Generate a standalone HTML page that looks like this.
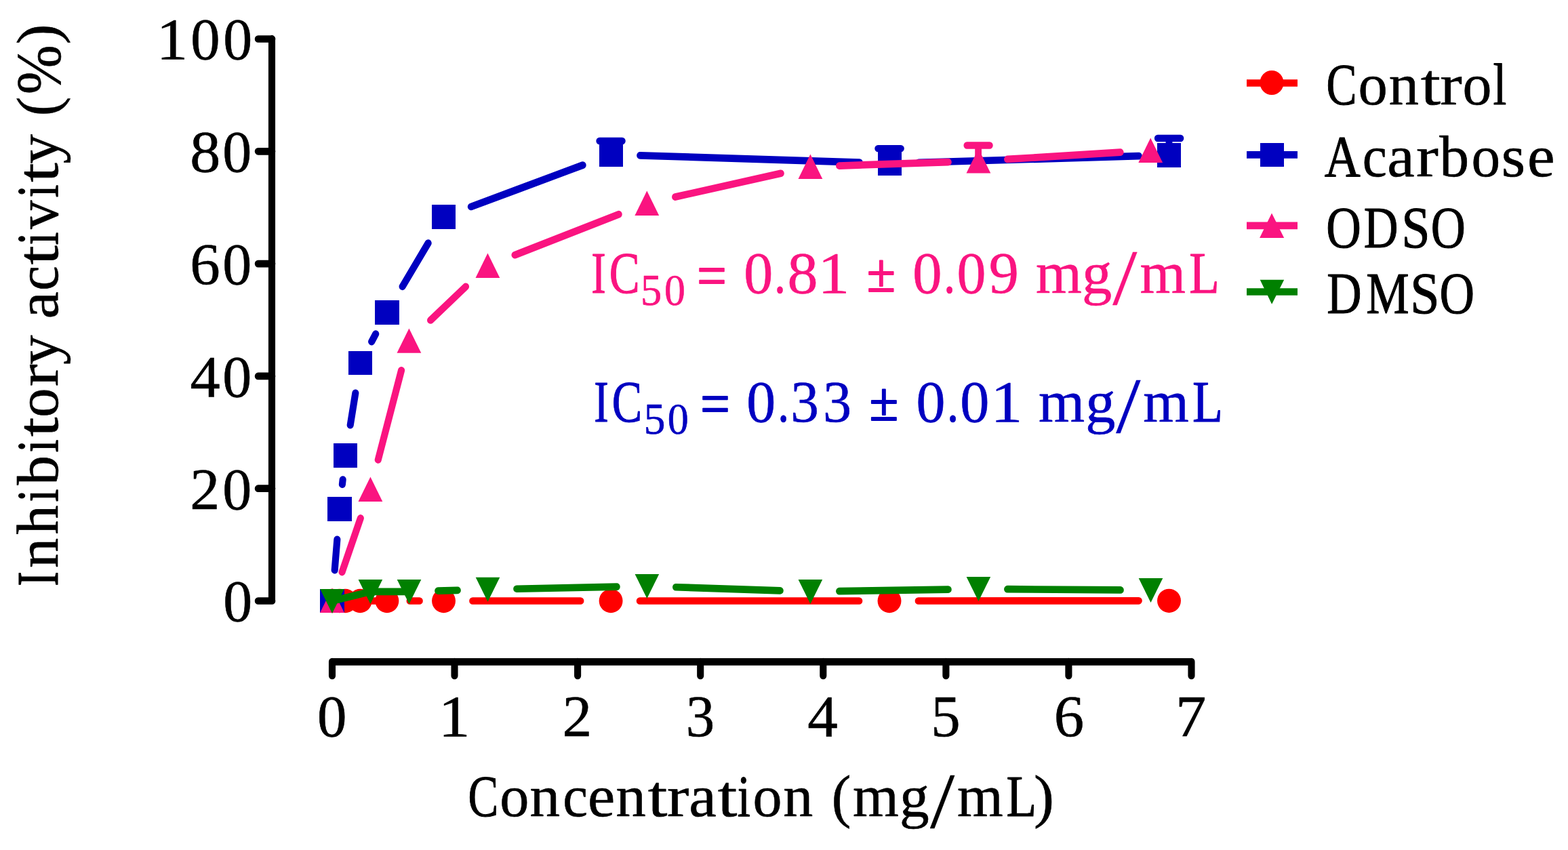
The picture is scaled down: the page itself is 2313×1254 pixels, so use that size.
<!DOCTYPE html>
<html lang="en">
<head>
<meta charset="utf-8">
<title>Inhibitory activity vs concentration</title>
<style>
html,body{margin:0;padding:0;background:#ffffff;}
body{width:2313px;height:1254px;overflow:hidden;}
svg{display:block;}
svg text{font-family:"Liberation Serif","DejaVu Serif",serif;white-space:pre;stroke-linejoin:round;}
</style>
</head>
<body>
<svg width="2313" height="1254" viewBox="0 0 2313 1254">
<rect width="2313" height="1254" fill="#ffffff"/>
<g id="axes">
<path transform="scale(1,1.054)" d="M401.0,54.27V841.08M401.3,841.08H380.80M401.3,683.78H380.80M401.3,526.47H380.80M401.3,369.17H380.80M401.3,211.86H380.80M401.3,54.55H380.80M490.00,926.38H1757.50M490.00,926.09V945.92M670.50,926.09V945.92M852.10,926.09V945.92M1033.20,926.09V945.92M1214.30,926.09V945.92M1395.40,926.09V945.92M1576.40,926.09V945.92M1757.50,926.09V945.92" fill="none" stroke="#000000" stroke-width="10.12" stroke-linecap="round" stroke-linejoin="round"/>
</g>
<g id="series">
<g transform="scale(1,1.054)" stroke="#ff0000" stroke-width="10.15" stroke-linecap="round" fill="none"><path d="M490.00,841.08L501.00,841.08M501.00,841.08L509.50,841.08M509.50,841.08L531.20,841.08M531.20,841.08L570.90,841.08M604.60,841.08L618.78,841.08M697.20,841.08L856.38,841.08M943.80,841.08L1267.28,841.08M1354.70,841.06L1679.78,840.91"/></g>
<ellipse cx="490.00" cy="886.50" rx="17.45" ry="17.65" fill="#ff0000"/><ellipse cx="501.00" cy="886.50" rx="17.45" ry="17.65" fill="#ff0000"/><ellipse cx="509.50" cy="886.50" rx="17.45" ry="17.65" fill="#ff0000"/><ellipse cx="531.20" cy="886.50" rx="17.45" ry="17.65" fill="#ff0000"/><ellipse cx="570.90" cy="886.50" rx="17.45" ry="17.65" fill="#ff0000"/><ellipse cx="654.50" cy="886.50" rx="17.45" ry="17.65" fill="#ff0000"/><ellipse cx="901.10" cy="886.50" rx="17.45" ry="17.65" fill="#ff0000"/><ellipse cx="1312.00" cy="886.50" rx="17.45" ry="17.65" fill="#ff0000"/><ellipse cx="1724.50" cy="886.30" rx="17.45" ry="17.65" fill="#ff0000"/>
<g transform="scale(1,1.054)" stroke="#0000c0" stroke-width="10.15" stroke-linecap="round" fill="none"><path d="M493.68,798.04L497.36,755.06M504.89,678.14L505.66,671.41M516.72,595.02L524.34,550.17M548.15,478.27L554.20,467.45M593.64,401.11L631.64,340.22M694.88,289.34L859.58,231.13M944.20,217.60L1267.80,227.31M1355.20,227.46L1679.80,218.42"/><path d="M901.50,216.32V197.34M884.25,197.34H917.85" stroke-width="9.8"/><path d="M1312.50,228.65V207.87M1295.15,207.87H1328.95" stroke-width="9.8"/><path d="M1724.50,217.17V193.55M1707.75,193.55H1741.45" stroke-width="9.8"/></g>
<rect x="472" y="869" width="36" height="35" fill="#0000c0"/><rect x="483" y="733" width="36" height="36" fill="#0000c0"/><rect x="492" y="654" width="35" height="36" fill="#0000c0"/><rect x="514" y="518" width="35" height="35" fill="#0000c0"/><rect x="553" y="443" width="36" height="36" fill="#0000c0"/><rect x="637" y="302" width="35" height="36" fill="#0000c0"/><rect x="884" y="210" width="35" height="36" fill="#0000c0"/><rect x="1295" y="223" width="35" height="36" fill="#0000c0"/><rect x="1707" y="211" width="35" height="36" fill="#0000c0"/>
<g transform="scale(1,1.054)" stroke="#fa1480" stroke-width="10.15" stroke-linecap="round" fill="none"><path d="M504.57,800.77L531.83,725.31M557.75,643.60L592.09,518.30M635.07,448.31L687.02,401.19M759.54,356.90L912.64,300.01M996.17,275.65L1151.75,242.65M1238.10,232.02L1398.71,226.86M1486.07,222.92L1652.56,213.15"/><path d="M1443.10,225.43V203.51M1426.35,203.51H1459.85" stroke-width="9.8"/></g>
<path d="M490.00,867.50L507.90,903.90H472.10Z" fill="#fa1480"/><path d="M546.40,703.60L564.30,740.00H528.50Z" fill="#fa1480"/><path d="M603.40,484.40L621.30,520.80H585.50Z" fill="#fa1480"/><path d="M719.40,373.50L737.30,409.90H701.50Z" fill="#fa1480"/><path d="M954.30,281.50L972.20,317.90H936.40Z" fill="#fa1480"/><path d="M1195.40,227.60L1213.30,264.00H1177.50Z" fill="#fa1480"/><path d="M1443.40,219.20L1461.30,255.60H1425.50Z" fill="#fa1480"/><path d="M1697.20,203.50L1715.10,239.90H1679.30Z" fill="#fa1480"/>
<g transform="scale(1,1.054)" stroke="#008000" stroke-width="10.15" stroke-linecap="round" fill="none"><path d="M490.00,841.08L546.40,828.18M546.40,828.18L603.50,828.18M646.20,827.03L674.80,826.25M762.21,824.22L909.69,821.36M997.10,821.85L1150.71,826.75M1238.11,827.52L1398.69,825.07M1486.10,824.69L1652.78,825.87"/></g>
<path d="M490.00,905.00L507.80,869.00H472.20Z" fill="#008000"/><path d="M546.40,891.10L564.20,855.10H528.60Z" fill="#008000"/><path d="M603.50,891.10L621.30,855.10H585.70Z" fill="#008000"/><path d="M719.50,887.80L737.30,851.80H701.70Z" fill="#008000"/><path d="M954.40,883.00L972.20,847.00H936.60Z" fill="#008000"/><path d="M1195.40,891.10L1213.20,855.10H1177.60Z" fill="#008000"/><path d="M1443.40,887.10L1461.20,851.10H1425.60Z" fill="#008000"/><path d="M1697.50,889.00L1715.30,853.00H1679.70Z" fill="#008000"/>
</g>
<g id="legend-symbols">
<path d="M1839,122.5H1914" stroke="#ff0000" stroke-width="10.6" fill="none"/>
<ellipse cx="1876.0" cy="122.0" rx="17.5" ry="18.1" fill="#ff0000"/>
<path d="M1839,228.4H1914" stroke="#0000c0" stroke-width="10.6" fill="none"/>
<rect x="1859" y="211" width="35" height="35" fill="#0000c0"/>
<path d="M1839,332.9H1914" stroke="#fa1480" stroke-width="10.6" fill="none"/>
<path d="M1876.0,314.4L1894.2,350.9H1858.1Z" fill="#fa1480"/>
<path d="M1839,430.5H1914" stroke="#008000" stroke-width="10.6" fill="none"/>
<path d="M1876.1,448.8L1894.2,412.85H1858.7Z" fill="#008000"/>
</g>
<g id="labels">
<text font-size="87.6" fill="#000000" stroke="#000000" stroke-width="0.6"><tspan x="230.86" y="87.40" textLength="46.39" lengthAdjust="spacingAndGlyphs">1</tspan><tspan x="281.23" y="87.40" textLength="43.39" lengthAdjust="spacingAndGlyphs">0</tspan><tspan x="329.26" y="87.40" textLength="42.93" lengthAdjust="spacingAndGlyphs">0</tspan></text>
<text font-size="87.6" fill="#000000" stroke="#000000" stroke-width="0.6"><tspan x="280.22" y="253.20" textLength="45.02" lengthAdjust="spacingAndGlyphs">8</tspan><tspan x="328.15" y="253.20" textLength="43.04" lengthAdjust="spacingAndGlyphs">0</tspan></text>
<text font-size="87.6" fill="#000000" stroke="#000000" stroke-width="0.6"><tspan x="280.34" y="419.00" textLength="44.49" lengthAdjust="spacingAndGlyphs">6</tspan><tspan x="328.15" y="419.00" textLength="43.04" lengthAdjust="spacingAndGlyphs">0</tspan></text>
<text font-size="87.6" fill="#000000" stroke="#000000" stroke-width="0.6"><tspan x="280.48" y="584.80" textLength="44.27" lengthAdjust="spacingAndGlyphs">4</tspan><tspan x="328.15" y="584.80" textLength="43.04" lengthAdjust="spacingAndGlyphs">0</tspan></text>
<text font-size="87.6" fill="#000000" stroke="#000000" stroke-width="0.6"><tspan x="280.39" y="750.60" textLength="43.98" lengthAdjust="spacingAndGlyphs">2</tspan><tspan x="328.15" y="750.60" textLength="43.04" lengthAdjust="spacingAndGlyphs">0</tspan></text>
<text font-size="87.6" fill="#000000" stroke="#000000" stroke-width="0.6"><tspan x="329.26" y="916.40" textLength="42.93" lengthAdjust="spacingAndGlyphs">0</tspan></text>
<text font-size="87.6" fill="#000000" stroke="#000000" stroke-width="0.6"><tspan x="467.92" y="1086.00" textLength="43.51" lengthAdjust="spacingAndGlyphs">0</tspan></text>
<text font-size="87.6" fill="#000000" stroke="#000000" stroke-width="0.6"><tspan x="646.68" y="1086.00" textLength="46.81" lengthAdjust="spacingAndGlyphs">1</tspan></text>
<text font-size="87.6" fill="#000000" stroke="#000000" stroke-width="0.6"><tspan x="829.61" y="1086.00" textLength="43.61" lengthAdjust="spacingAndGlyphs">2</tspan></text>
<text font-size="87.6" fill="#000000" stroke="#000000" stroke-width="0.6"><tspan x="1011.73" y="1086.00" textLength="42.43" lengthAdjust="spacingAndGlyphs">3</tspan></text>
<text font-size="87.6" fill="#000000" stroke="#000000" stroke-width="0.6"><tspan x="1191.27" y="1086.00" textLength="44.59" lengthAdjust="spacingAndGlyphs">4</tspan></text>
<text font-size="87.6" fill="#000000" stroke="#000000" stroke-width="0.6"><tspan x="1373.19" y="1086.00" textLength="43.43" lengthAdjust="spacingAndGlyphs">5</tspan></text>
<text font-size="87.6" fill="#000000" stroke="#000000" stroke-width="0.6"><tspan x="1554.75" y="1086.00" textLength="44.37" lengthAdjust="spacingAndGlyphs">6</tspan></text>
<text font-size="87.6" fill="#000000" stroke="#000000" stroke-width="0.6"><tspan x="1734.10" y="1086.00" textLength="45.38" lengthAdjust="spacingAndGlyphs">7</tspan></text>
<text font-size="87.6" fill="#000000" stroke="#000000" stroke-width="0.6"><tspan x="690.51" y="1204.40" textLength="44.70" lengthAdjust="spacingAndGlyphs" stroke-width="1.1">C</tspan><tspan x="737.24" y="1204.40" textLength="43.16" lengthAdjust="spacingAndGlyphs">o</tspan><tspan x="781.42" y="1204.40" textLength="44.65" lengthAdjust="spacingAndGlyphs">n</tspan><tspan x="830.36" y="1204.40" textLength="36.80" lengthAdjust="spacingAndGlyphs">c</tspan><tspan x="867.00" y="1204.40" textLength="40.24" lengthAdjust="spacingAndGlyphs">e</tspan><tspan x="908.53" y="1204.40" textLength="44.33" lengthAdjust="spacingAndGlyphs">n</tspan><tspan x="955.81" y="1204.40" textLength="28.69" lengthAdjust="spacingAndGlyphs">t</tspan><tspan x="984.13" y="1204.40" textLength="32.44" lengthAdjust="spacingAndGlyphs">r</tspan><tspan x="1016.34" y="1204.40" textLength="40.49" lengthAdjust="spacingAndGlyphs">a</tspan><tspan x="1058.71" y="1204.40" textLength="28.69" lengthAdjust="spacingAndGlyphs">t</tspan><tspan x="1087.72" y="1204.40" textLength="19.14" lengthAdjust="spacingAndGlyphs" stroke-width="1.1">i</tspan><tspan x="1110.55" y="1204.40" textLength="43.04" lengthAdjust="spacingAndGlyphs">o</tspan><tspan x="1155.24" y="1204.40" textLength="44.01" lengthAdjust="spacingAndGlyphs">n</tspan> <tspan x="1226.77" y="1204.40" textLength="28.61" lengthAdjust="spacingAndGlyphs">(</tspan><tspan x="1258.11" y="1204.40" textLength="67.83" lengthAdjust="spacingAndGlyphs">m</tspan><tspan x="1327.11" y="1204.40" textLength="43.68" lengthAdjust="spacingAndGlyphs">g</tspan><tspan x="1372.08" y="1221.21" textLength="36.22" lengthAdjust="spacingAndGlyphs" font-size="117.5" stroke-width="0.3">/</tspan><tspan x="1412.11" y="1204.40" textLength="67.72" lengthAdjust="spacingAndGlyphs">m</tspan><tspan x="1484.54" y="1204.40" textLength="44.53" lengthAdjust="spacingAndGlyphs" stroke-width="1.1">L</tspan><tspan x="1525.13" y="1204.40" textLength="29.93" lengthAdjust="spacingAndGlyphs">)</tspan></text>
<text transform="translate(85.10,863.10) rotate(-90)" font-size="87.6" fill="#000000" stroke="#000000" stroke-width="0.6"><tspan x="-1.75" y="0.00" textLength="21.53" lengthAdjust="spacingAndGlyphs" stroke-width="1.1">I</tspan><tspan x="25.03" y="0.00" textLength="44.22" lengthAdjust="spacingAndGlyphs">n</tspan><tspan x="74.51" y="0.00" textLength="43.08" lengthAdjust="spacingAndGlyphs">h</tspan><tspan x="122.72" y="0.00" textLength="19.03" lengthAdjust="spacingAndGlyphs" stroke-width="1.1">i</tspan><tspan x="147.35" y="0.00" textLength="43.69" lengthAdjust="spacingAndGlyphs">b</tspan><tspan x="195.51" y="0.00" textLength="19.25" lengthAdjust="spacingAndGlyphs" stroke-width="1.1">i</tspan><tspan x="218.91" y="0.00" textLength="28.80" lengthAdjust="spacingAndGlyphs">t</tspan><tspan x="247.34" y="0.00" textLength="43.16" lengthAdjust="spacingAndGlyphs">o</tspan><tspan x="292.90" y="0.00" textLength="32.97" lengthAdjust="spacingAndGlyphs">r</tspan><tspan x="325.06" y="0.00" textLength="43.49" lengthAdjust="spacingAndGlyphs">y</tspan> <tspan x="392.54" y="0.00" textLength="40.49" lengthAdjust="spacingAndGlyphs">a</tspan><tspan x="434.38" y="0.00" textLength="36.57" lengthAdjust="spacingAndGlyphs">c</tspan><tspan x="472.31" y="0.00" textLength="28.59" lengthAdjust="spacingAndGlyphs">t</tspan><tspan x="501.72" y="0.00" textLength="19.14" lengthAdjust="spacingAndGlyphs" stroke-width="1.1">i</tspan><tspan x="525.04" y="0.00" textLength="42.56" lengthAdjust="spacingAndGlyphs">v</tspan><tspan x="571.52" y="0.00" textLength="19.14" lengthAdjust="spacingAndGlyphs" stroke-width="1.1">i</tspan><tspan x="594.01" y="0.00" textLength="28.80" lengthAdjust="spacingAndGlyphs">t</tspan><tspan x="621.35" y="0.00" textLength="43.90" lengthAdjust="spacingAndGlyphs">y</tspan> <tspan x="691.78" y="0.00" textLength="28.48" lengthAdjust="spacingAndGlyphs">(</tspan><tspan x="723.79" y="3.05" textLength="72.91" lengthAdjust="spacingAndGlyphs" font-size="92.11" stroke-width="0.6">%</tspan><tspan x="797.77" y="0.00" textLength="29.55" lengthAdjust="spacingAndGlyphs">)</tspan></text>
<text font-size="87.6" fill="#000000" stroke="#000000" stroke-width="0.6"><tspan x="1956.49" y="153.90" textLength="45.04" lengthAdjust="spacingAndGlyphs" stroke-width="1.1">C</tspan><tspan x="2003.44" y="153.90" textLength="43.27" lengthAdjust="spacingAndGlyphs">o</tspan><tspan x="2048.83" y="153.90" textLength="44.33" lengthAdjust="spacingAndGlyphs">n</tspan><tspan x="2095.70" y="153.90" textLength="29.32" lengthAdjust="spacingAndGlyphs">t</tspan><tspan x="2124.23" y="153.90" textLength="32.54" lengthAdjust="spacingAndGlyphs">r</tspan><tspan x="2157.46" y="153.90" textLength="42.93" lengthAdjust="spacingAndGlyphs">o</tspan><tspan x="2202.48" y="153.90" textLength="19.81" lengthAdjust="spacingAndGlyphs" stroke-width="1.1">l</tspan></text>
<text font-size="87.6" fill="#000000" stroke="#000000" stroke-width="0.6"><tspan x="1953.79" y="259.80" textLength="53.02" lengthAdjust="spacingAndGlyphs" stroke-width="1.1">A</tspan><tspan x="2009.81" y="259.80" textLength="36.10" lengthAdjust="spacingAndGlyphs">c</tspan><tspan x="2046.34" y="259.80" textLength="40.38" lengthAdjust="spacingAndGlyphs">a</tspan><tspan x="2089.11" y="259.80" textLength="32.87" lengthAdjust="spacingAndGlyphs">r</tspan><tspan x="2123.35" y="259.80" textLength="43.90" lengthAdjust="spacingAndGlyphs">b</tspan><tspan x="2170.58" y="259.80" textLength="42.58" lengthAdjust="spacingAndGlyphs">o</tspan><tspan x="2214.83" y="259.80" textLength="35.31" lengthAdjust="spacingAndGlyphs">s</tspan><tspan x="2252.97" y="259.80" textLength="40.59" lengthAdjust="spacingAndGlyphs">e</tspan></text>
<text font-size="87.6" fill="#000000" stroke="#000000" stroke-width="0.6"><tspan x="1956.35" y="364.90" textLength="51.61" lengthAdjust="spacingAndGlyphs" stroke-width="1.1">O</tspan><tspan x="2011.70" y="364.90" textLength="50.72" lengthAdjust="spacingAndGlyphs" stroke-width="1.1">D</tspan><tspan x="2067.59" y="364.90" textLength="41.89" lengthAdjust="spacingAndGlyphs" stroke-width="1.1">S</tspan><tspan x="2110.78" y="364.90" textLength="51.05" lengthAdjust="spacingAndGlyphs" stroke-width="1.1">O</tspan></text>
<text font-size="87.6" fill="#000000" stroke="#000000" stroke-width="0.6"><tspan x="1957.18" y="461.90" textLength="51.37" lengthAdjust="spacingAndGlyphs" stroke-width="1.1">D</tspan><tspan x="2015.27" y="461.90" textLength="63.47" lengthAdjust="spacingAndGlyphs" stroke-width="1.1">M</tspan><tspan x="2080.15" y="461.90" textLength="43.15" lengthAdjust="spacingAndGlyphs" stroke-width="1.1">S</tspan><tspan x="2123.46" y="461.90" textLength="51.50" lengthAdjust="spacingAndGlyphs" stroke-width="1.1">O</tspan></text>
<text font-size="87.6" fill="#fa1480" stroke="#fa1480" stroke-width="0.6"><tspan x="872.15" y="432.10" textLength="21.53" lengthAdjust="spacingAndGlyphs" stroke-width="1.1">I</tspan><tspan x="898.69" y="432.10" textLength="44.93" lengthAdjust="spacingAndGlyphs" stroke-width="1.1">C</tspan><tspan x="944.98" y="450.10" textLength="31.20" lengthAdjust="spacingAndGlyphs" font-size="65.8">5</tspan><tspan x="979.88" y="450.10" textLength="30.94" lengthAdjust="spacingAndGlyphs" font-size="65.8">0</tspan> <tspan x="1028.29" y="435.97" textLength="43.43" lengthAdjust="spacingAndGlyphs" font-size="86.01" stroke-width="2.0">=</tspan> <tspan x="1097.35" y="432.10" textLength="43.04" lengthAdjust="spacingAndGlyphs">0</tspan><tspan x="1141.80" y="432.10" textLength="17.52" lengthAdjust="spacingAndGlyphs">.</tspan><tspan x="1161.52" y="432.10" textLength="45.02" lengthAdjust="spacingAndGlyphs">8</tspan><tspan x="1206.58" y="432.10" textLength="46.81" lengthAdjust="spacingAndGlyphs">1</tspan> <tspan x="1279.00" y="430.10" textLength="41.78" lengthAdjust="spacingAndGlyphs" font-size="81.41" stroke-width="2.2">±</tspan> <tspan x="1346.24" y="432.10" textLength="43.27" lengthAdjust="spacingAndGlyphs">0</tspan><tspan x="1391.85" y="432.10" textLength="17.72" lengthAdjust="spacingAndGlyphs">.</tspan><tspan x="1411.56" y="432.10" textLength="42.93" lengthAdjust="spacingAndGlyphs">0</tspan><tspan x="1458.68" y="432.10" textLength="44.14" lengthAdjust="spacingAndGlyphs">9</tspan> <tspan x="1528.11" y="432.10" textLength="67.83" lengthAdjust="spacingAndGlyphs">m</tspan><tspan x="1596.07" y="432.10" textLength="44.13" lengthAdjust="spacingAndGlyphs">g</tspan><tspan x="1641.18" y="448.91" textLength="36.12" lengthAdjust="spacingAndGlyphs" font-size="117.5" stroke-width="0.3">/</tspan><tspan x="1681.51" y="432.10" textLength="67.52" lengthAdjust="spacingAndGlyphs">m</tspan><tspan x="1754.34" y="432.10" textLength="44.53" lengthAdjust="spacingAndGlyphs" stroke-width="1.1">L</tspan></text>
<text font-size="87.6" fill="#0000c0" stroke="#0000c0" stroke-width="0.6"><tspan x="876.25" y="621.60" textLength="21.53" lengthAdjust="spacingAndGlyphs" stroke-width="1.1">I</tspan><tspan x="902.82" y="621.60" textLength="44.36" lengthAdjust="spacingAndGlyphs" stroke-width="1.1">C</tspan><tspan x="949.73" y="639.60" textLength="31.69" lengthAdjust="spacingAndGlyphs" font-size="65.8">5</tspan><tspan x="984.68" y="639.60" textLength="31.06" lengthAdjust="spacingAndGlyphs" font-size="65.8">0</tspan> <tspan x="1033.19" y="625.47" textLength="43.43" lengthAdjust="spacingAndGlyphs" font-size="86.01" stroke-width="2.0">=</tspan> <tspan x="1101.26" y="621.60" textLength="42.93" lengthAdjust="spacingAndGlyphs">0</tspan><tspan x="1147.05" y="621.60" textLength="17.33" lengthAdjust="spacingAndGlyphs">.</tspan><tspan x="1166.19" y="621.60" textLength="41.71" lengthAdjust="spacingAndGlyphs">3</tspan><tspan x="1214.06" y="621.60" textLength="42.07" lengthAdjust="spacingAndGlyphs">3</tspan> <tspan x="1282.87" y="619.60" textLength="42.34" lengthAdjust="spacingAndGlyphs" font-size="81.41" stroke-width="2.2">±</tspan> <tspan x="1351.46" y="621.60" textLength="42.93" lengthAdjust="spacingAndGlyphs">0</tspan><tspan x="1396.55" y="621.60" textLength="18.12" lengthAdjust="spacingAndGlyphs">.</tspan><tspan x="1416.34" y="621.60" textLength="43.16" lengthAdjust="spacingAndGlyphs">0</tspan><tspan x="1461.46" y="621.60" textLength="46.95" lengthAdjust="spacingAndGlyphs">1</tspan> <tspan x="1531.90" y="621.60" textLength="68.14" lengthAdjust="spacingAndGlyphs">m</tspan><tspan x="1601.17" y="621.60" textLength="44.13" lengthAdjust="spacingAndGlyphs">g</tspan><tspan x="1646.28" y="638.41" textLength="36.22" lengthAdjust="spacingAndGlyphs" font-size="117.5" stroke-width="0.3">/</tspan><tspan x="1686.31" y="621.60" textLength="67.62" lengthAdjust="spacingAndGlyphs">m</tspan><tspan x="1759.12" y="621.60" textLength="44.87" lengthAdjust="spacingAndGlyphs" stroke-width="1.1">L</tspan></text>
</g>
</svg>
</body>
</html>
